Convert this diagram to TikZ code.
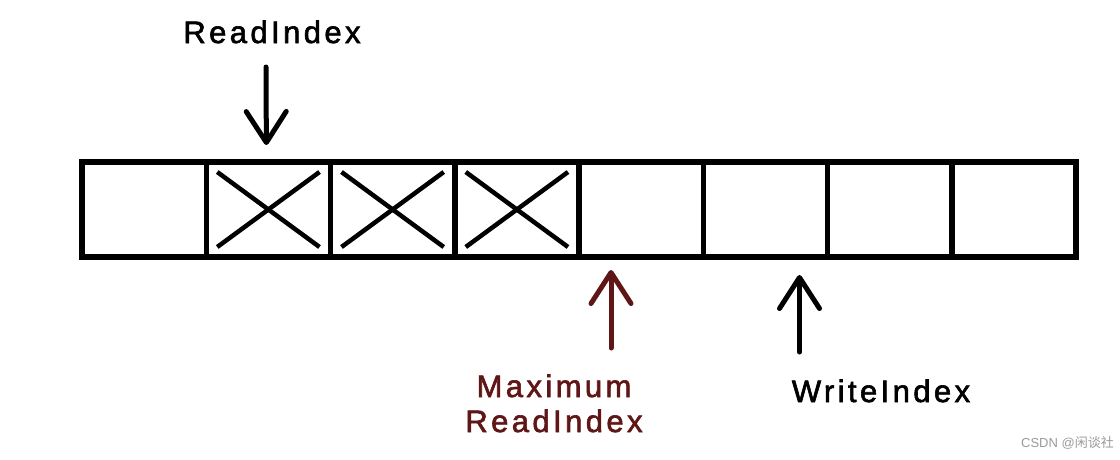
\documentclass[tikz,border=0pt]{standalone}
\usepackage{fontspec}
\setmainfont{Liberation Sans}
\newfontfamily\labelfont[LetterSpace=11,FakeBold=2]{Liberation Sans}
\newfontfamily\cjkfont{Noto Sans CJK SC}
\usetikzlibrary{arrows.meta,calc}
\definecolor{Maroon}{HTML}{5E1616}
\definecolor{Mark}{HTML}{9A9A9A}

\begin{document}
\begin{tikzpicture}[x=1pt,y=-1pt,
    cell/.style={draw,line width=5.5pt,minimum width=124.25pt,minimum height=95pt,inner sep=0pt,outer sep=0pt},
    lbl/.style={font=\labelfont\fontsize{31}{35}\selectfont,inner sep=0pt},
    ptr/.style={line width=5pt,line cap=round,-{Straight Barb[length=31pt,width=40pt,line cap=round,round]}}]
  \useasboundingbox (0,0) rectangle (1120,459);
  % the ring buffer
  \foreach \i in {1,...,8}
    \node[cell] (c\i) at ({82+124.25*(\i-.5)},209.5) {};
  \foreach \i in {2,3,4}{
    \draw[line width=4.5pt] ($(c\i.north west)+(11,10)$) -- ($(c\i.south east)+(-11,-10)$);
    \draw[line width=4.5pt] ($(c\i.north east)+(-11,10)$) -- ($(c\i.south west)+(11,-10)$);
  }
  % indices
  \node[lbl,anchor=base] (rd) at (272,43) {ReadIndex};
  \node[lbl,anchor=base,align=center,text=Maroon] (mx) at (554,432) {Maximum\\ReadIndex};
  \node[lbl,anchor=base] (wr) at (881,402) {WriteIndex};
  \draw[ptr] ($(rd.base)+(-6,24)$) -- ($(c2.north)+(-2,-17)$);
  \draw[ptr,Maroon] ($(c5.south west)+(32,91)$) -- ($(c5.south west)+(32,13)$);
  \draw[ptr] ($(c6.south east)+(-28,95)$) -- ($(c6.south east)+(-28,18)$);
  \node[anchor=east,text=Mark,font=\fontsize{13}{15}\selectfont,inner sep=0pt] (wm) at (1114,443) {CSDN @{\cjkfont 闲谈社}};
\end{tikzpicture}
\end{document}
